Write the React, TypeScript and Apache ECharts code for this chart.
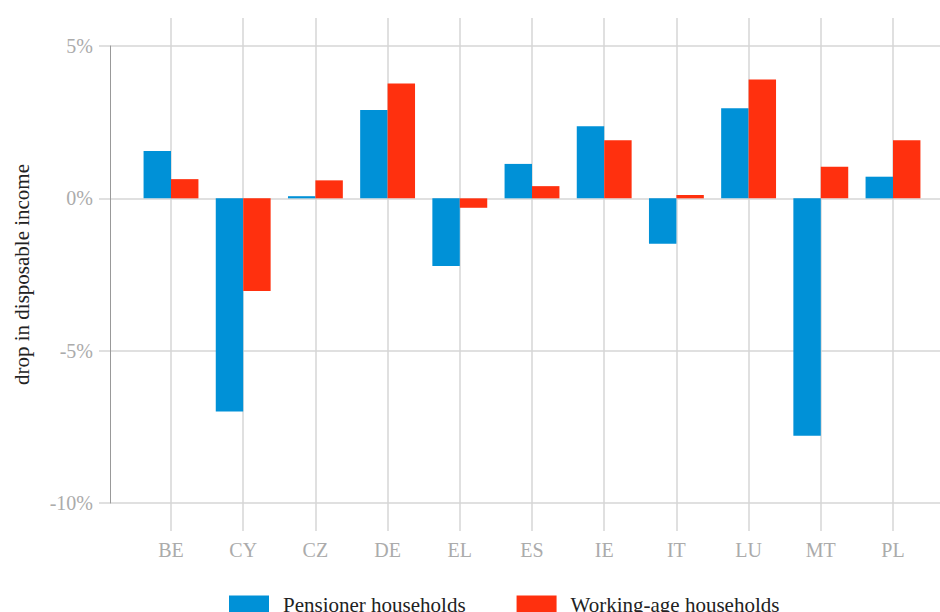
import React, { useEffect, useRef } from "react";
import * as echarts from "echarts";

const categories = ["BE", "CY", "CZ", "DE", "EL", "ES", "IE", "IT", "LU", "MT", "PL"];
const pensioner = [1.55, -7.0, 0.07, 2.9, -2.22, 1.13, 2.37, -1.49, 2.96, -7.79, 0.71];
const workingAge = [0.63, -3.04, 0.59, 3.77, -0.31, 0.4, 1.91, 0.11, 3.9, 1.04, 1.91];
const seriesNames = ["Pensioner households", "Working-age households"];
const yMin = -10;
const yMax = 5;
const yStep = 5;

const FONT = "'Liberation Serif', 'DejaVu Serif', serif";
const GRID_COLOR = "#d6d6d6";
const LABEL_COLOR = "#ababab";

export default function App() {
  const ref = useRef<HTMLDivElement>(null);
  useEffect(() => {
    if (!ref.current) return;
    const chart = echarts.init(ref.current, undefined, { renderer: "svg" });
    const plotTop = 46;
    const plotBottom = 109;
    const ext = 28;
    const pxPerUnit = (612 - plotTop - plotBottom) / (yMax - yMin);
    const extUnits = ext / pxPerUnit;
    const gridBase = { containLabel: false, outerBoundsMode: "none" };
    chart.setOption({
      animation: false,
      textStyle: { fontFamily: FONT },
      grid: [
        { ...gridBase, left: 110, right: 0, top: plotTop, bottom: plotBottom },
        { ...gridBase, left: 171, right: 47, top: plotTop - ext, bottom: plotBottom - ext },
        { ...gridBase, left: 171, right: 47, top: plotTop, bottom: plotBottom },
      ],
      xAxis: [
        { type: "value", gridIndex: 0, show: false, min: 0, max: 1 },
        {
          type: "category",
          gridIndex: 1,
          data: categories,
          boundaryGap: false,
          axisLine: { show: false },
          axisTick: { show: false },
          splitLine: { show: true, lineStyle: { color: GRID_COLOR, width: 1.5 } },
          axisLabel: { color: LABEL_COLOR, fontSize: 20, fontFamily: FONT, margin: 9 },
        },
        {
          type: "category",
          gridIndex: 2,
          data: categories,
          boundaryGap: false,
          show: false,
        },
      ],
      yAxis: [
        {
          type: "value",
          gridIndex: 0,
          min: yMin,
          max: yMax,
          interval: yStep,
          name: "drop in disposable income",
          nameLocation: "middle",
          nameGap: 78,
          nameTextStyle: { color: "#222", fontSize: 21, fontFamily: FONT },
          axisLine: { show: true, lineStyle: { color: "#999", width: 1 } },
          axisTick: { show: true, length: 11, lineStyle: { color: GRID_COLOR, width: 1.5 } },
          splitLine: { show: true, lineStyle: { color: GRID_COLOR, width: 1.5 } },
          axisLabel: {
            color: LABEL_COLOR,
            fontSize: 20,
            fontFamily: FONT,
            margin: 17,
            formatter: (v: number) => `${v}%`,
          },
        },
        {
          type: "value",
          gridIndex: 1,
          show: false,
          min: yMin - extUnits,
          max: yMax + extUnits,
          splitLine: { show: false },
        },
        {
          type: "value",
          gridIndex: 2,
          show: false,
          min: yMin,
          max: yMax,
          splitLine: { show: false },
        },
      ],
      legend: {
        left: 229,
        top: 594,
        padding: 0,
        itemWidth: 40,
        itemHeight: 18,
        itemGap: 51,
        icon: "rect",
        data: seriesNames,
        textStyle: {
          color: "#222",
          fontSize: 21,
          fontFamily: FONT,
          padding: [0, 0, 0, 9],
        },
      },
      series: [
        {
          name: seriesNames[0],
          type: "bar",
          xAxisIndex: 2,
          yAxisIndex: 2,
          data: pensioner,
          barGap: "0%",
          barCategoryGap: "24%",
          clip: false,
          itemStyle: { color: "#0091D7" },
        },
        {
          name: seriesNames[1],
          type: "bar",
          xAxisIndex: 2,
          yAxisIndex: 2,
          data: workingAge,
          barGap: "0%",
          barCategoryGap: "24%",
          clip: false,
          itemStyle: { color: "#FF300E" },
        },
      ],
    });
    return () => chart.dispose();
  }, []);
  return <div ref={ref} style={{ width: 940, height: 612, position: "absolute", left: 0, top: 0 }} />;
}
